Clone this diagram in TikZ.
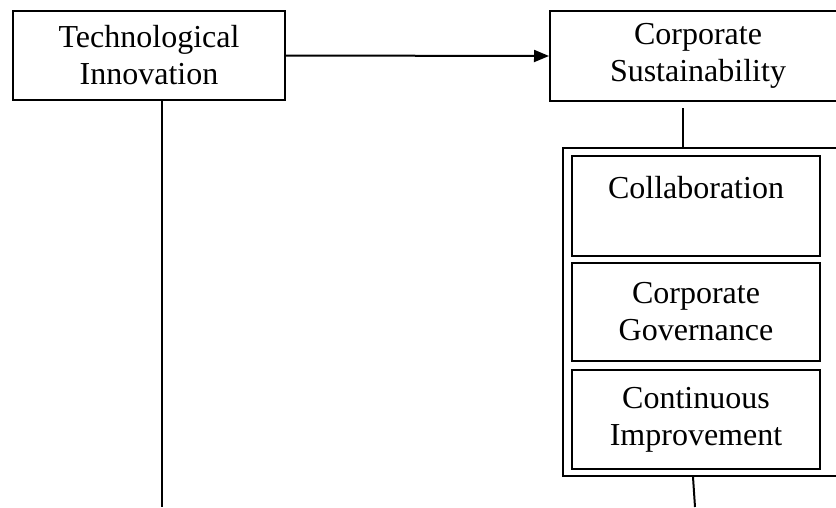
\documentclass[tikz,border=0pt]{standalone}
\usepackage{fontspec}
\setmainfont{Liberation Serif}
\usetikzlibrary{arrows.meta}
\tikzset{
  box/.style={draw,line width=2pt,align=center,inner sep=0pt,font=\fontsize{32}{37}\selectfont},
  link/.style={line width=2pt},
}
\begin{document}
\begin{tikzpicture}[x=1pt,y=-1pt]
\clip (0,0) rectangle (836,507);
\node[box,minimum width=272pt,minimum height=89pt] (tech) at (149,55.5) {Technological\\Innovation};
\node[box,minimum width=296pt,minimum height=90pt] (sust) at (698,56) {Corporate\\Sustainability};
\node[box,minimum width=277pt,minimum height=328pt] (frame) at (701.5,312) {};
\node[box,minimum width=248pt,minimum height=100pt] (collab) at (696,206) {Collaboration\\\mbox{}};
\node[box,minimum width=248pt,minimum height=98pt] (gov) at (696,312) {Corporate\\Governance};
\node[box,minimum width=248pt,minimum height=99pt] (improve) at (696,419.5) {Continuous\\Improvement};

\coordinate (techend) at (162,507);
\coordinate (sustdrop) at (683,108);
\coordinate (frameend) at (695,507);

\draw[link,-{Triangle[length=15pt,width=12pt]}] (tech.east) -- (sust.west);
\draw[link] (tech.south -| techend) -- (techend);
\draw[link] (sustdrop) -- (sustdrop |- frame.north);
\draw[link] ([xshift=-8.5pt]frame.south) -- (frameend);
\end{tikzpicture}
\end{document}
